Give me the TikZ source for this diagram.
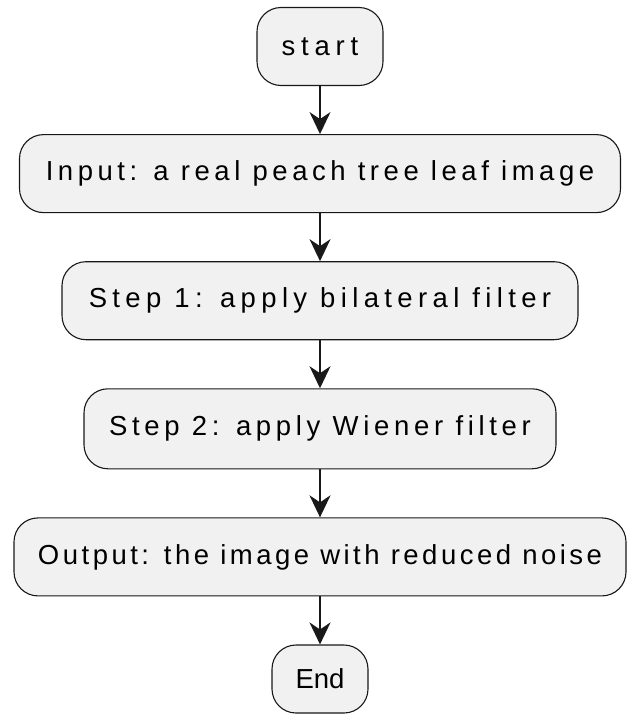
\documentclass[tikz,border=0pt]{standalone}
\usepackage{fontspec}
\setmainfont{Liberation Sans}
\usetikzlibrary{positioning, arrows.meta}
\definecolor{boxfill}{HTML}{F1F1F1}
\definecolor{boxline}{HTML}{181818}

\begin{document}
\begin{tikzpicture}[
    x=1pt, y=1pt,
    node distance=48pt,
    action/.style={rectangle, draw=boxline, fill=boxfill, line width=1.1pt, rounded corners=24pt, minimum height=78pt, align=center, inner sep=0pt, font=\fontsize{27.5}{32}\selectfont},
    spaced/.style={action, font=\fontsize{27.5}{32}\selectfont\addfontfeature{LetterSpace=#1}},
    arrow/.style={-{Stealth[length=22pt, width=21pt, inset=7pt]}, line width=2pt, draw=black!90}
]
\useasboundingbox (0,0) rectangle (629,-723);

% Start and input
\node[spaced=21, minimum width=126pt] (start) at (320,-46.5) {start};
\node[spaced=16.5, below=of start, minimum width=601pt] (input) {Input: a real peach tree leaf image};

% Filter steps
\node[spaced=19.5, below=of input, minimum width=516pt] (bilateral) {Step 1: apply bilateral filter};
\node[spaced=17, below=of bilateral, minimum width=472pt, minimum height=80pt] (wiener) {Step 2: apply Wiener filter};

% Output and end
\node[spaced=12.7, below=of wiener, minimum width=612pt] (output) {Output: the image with reduced noise};
\node[action, below=of output, minimum width=96pt, minimum height=68pt] (finish) {End};

% Arrows
\draw[arrow] (start) -- (input);
\draw[arrow] (input) -- (bilateral);
\draw[arrow] (bilateral) -- (wiener);
\draw[arrow] (wiener) -- (output);
\draw[arrow] (output) -- (finish);

\end{tikzpicture}
\end{document}
